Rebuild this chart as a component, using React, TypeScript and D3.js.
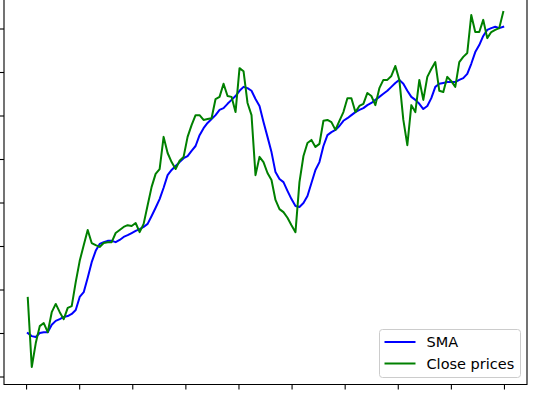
import React, { useRef, useEffect } from "react";
import { select, scaleLinear, line, range } from "d3";

// close prices, one value per trading day
const closePrices = [
  118.2, 102.3, 107.8, 111.7, 112.4, 110.3, 114.9, 116.8, 114.9, 113.3,
  115.9, 116.3, 121.8, 126.7, 130.3, 133.8, 130.8, 130.3, 129.9, 130.8,
  131.0, 131.0, 133.1, 133.8, 134.5, 134.9, 134.7, 135.4, 133.3, 135.2,
  139.5, 143.7, 146.7, 147.8, 155.2, 151.5, 149.4, 147.8, 149.7, 150.6,
  155.2, 157.9, 160.2, 160.2, 159.1, 159.3, 159.5, 163.9, 164.4, 167.4,
  164.6, 164.4, 160.9, 171.0, 170.3, 163.0, 160.2, 146.4, 150.6, 149.4,
  146.9, 145.3, 140.7, 138.6, 137.9, 136.6, 134.9, 133.3, 144.8, 150.8,
  153.8, 154.5, 152.9, 153.6, 158.9, 159.1, 158.6, 156.8, 158.9, 160.9,
  164.1, 164.1, 160.9, 162.3, 162.8, 165.3, 164.6, 162.5, 166.4, 168.3,
  168.3, 169.2, 171.5, 168.3, 159.1, 153.3, 162.5, 160.9, 168.3, 163.7,
  169.0, 170.8, 172.4, 165.8, 165.5, 169.0, 168.0, 166.7, 172.4, 173.6,
  174.5, 183.2, 179.3, 179.3, 182.1, 177.9, 179.3, 179.8, 180.2, 183.9,
];

// simple moving average, also
const smaValues = [
  110.1, 109.4, 109.2, 110.1, 110.3, 110.3, 112.0, 112.9, 113.3, 113.8,
  114.0, 114.5, 115.4, 118.4, 119.5, 122.8, 126.4, 129.0, 130.6, 131.0,
  131.3, 131.3, 131.0, 131.5, 132.2, 132.6, 133.1, 133.6, 134.0, 134.5,
  135.2, 137.0, 138.9, 140.9, 143.5, 146.4, 147.6, 148.5, 149.4, 150.3,
  150.8, 152.0, 153.1, 155.6, 157.2, 158.4, 159.3, 160.2, 161.4, 161.8,
  162.8, 163.7, 164.6, 165.8, 166.7, 166.4, 165.8, 163.9, 162.3, 158.6,
  155.2, 151.7, 147.1, 145.5, 144.8, 142.8, 140.9, 139.3, 139.1, 140.0,
  141.6, 144.6, 147.6, 149.4, 153.1, 155.6, 156.3, 156.8, 157.7, 158.9,
  159.5, 160.2, 160.9, 161.4, 161.8, 162.5, 163.0, 163.7, 164.4, 165.1,
  165.8, 166.7, 167.6, 168.3, 167.4, 165.8, 164.4, 163.7, 162.8, 161.6,
  162.3, 164.1, 166.7, 167.4, 167.6, 167.8, 167.8, 167.8, 168.3, 168.7,
  169.7, 172.0, 174.7, 176.3, 178.4, 179.8, 180.2, 180.5, 180.2, 180.5,
];

// tick positions (labels are cut off in the reference)
const xTickValues = range(10).map((k) => -0.3 + k * 13.29);
const yTickValues = [100, 110, 120, 130, 140, 150, 160, 170, 180];

const legendItems = [
  { label: "SMA", color: "blue" },
  { label: "Close prices", color: "green" },
];

const WIDTH = 535;
const HEIGHT = 393;

const App = () => {
  const svgRef = useRef<SVGSVGElement>(null);

  useEffect(() => {
    const svg = select(svgRef.current);
    svg.selectAll("*").remove();

    const left = 4;
    const right = 527;
    const bottom = 384.5;
    const n = closePrices.length;
    const pad = (n - 1) * 0.05;

    const x = scaleLinear()
      .domain([-pad, n - 1 + pad])
      .range([left, right]);
    const y = scaleLinear().domain([100, 180]).range([377, 29]);

    const g = svg.append("g");

    // ticks
    g.selectAll(".ytick")
      .data(yTickValues)
      .enter()
      .append("line")
      .attr("x1", left - 5)
      .attr("x2", left)
      .attr("y1", (d) => y(d))
      .attr("y2", (d) => y(d))
      .attr("stroke", "#000")
      .attr("stroke-width", 1.1);

    g.selectAll(".xtick")
      .data(xTickValues)
      .enter()
      .append("line")
      .attr("x1", (d) => x(d))
      .attr("x2", (d) => x(d))
      .attr("y1", bottom)
      .attr("y2", bottom + 5)
      .attr("stroke", "#000")
      .attr("stroke-width", 1.1);

    const lineGen = line<number>()
      .x((_, i) => x(i))
      .y((d) => y(d));

    g.append("path")
      .datum(smaValues)
      .attr("d", lineGen)
      .attr("fill", "none")
      .attr("stroke", "blue")
      .attr("stroke-width", 2)
      .attr("stroke-linejoin", "round")
      .attr("stroke-linecap", "square");

    g.append("path")
      .datum(closePrices)
      .attr("d", lineGen)
      .attr("fill", "none")
      .attr("stroke", "green")
      .attr("stroke-width", 2)
      .attr("stroke-linejoin", "round")
      .attr("stroke-linecap", "square");

    // spines (top one is outside the crop)
    g.append("path")
      .attr("d", `M${left},-10 V${bottom} H${right} V-10`)
      .attr("fill", "none")
      .attr("stroke", "#000")
      .attr("stroke-width", 1.1);

    // legend, lower right
    const legend = g.append("g").attr("transform", "translate(379.5, 329.5)");
    legend
      .append("rect")
      .attr("width", 141)
      .attr("height", 48)
      .attr("rx", 3)
      .attr("fill", "white")
      .attr("fill-opacity", 0.8)
      .attr("stroke", "#cccccc")
      .attr("stroke-width", 1);

    const rows = legend
      .selectAll(".legend-item")
      .data(legendItems)
      .enter()
      .append("g")
      .attr("transform", (d, i) => `translate(0, ${12.5 + i * 21.5})`);

    rows
      .append("line")
      .attr("x1", 5)
      .attr("x2", 36)
      .attr("stroke", (d) => d.color)
      .attr("stroke-width", 2);

    rows
      .append("text")
      .attr("x", 47)
      .attr("dy", "0.35em")
      .style("font-family", "DejaVu Sans")
      .style("font-size", "14.5px")
      .style("fill", "#000")
      .text((d) => d.label);
  }, []);

  return (
    <div style={{ position: "absolute", left: 0, top: 0, background: "white" }}>
      <svg ref={svgRef} width={WIDTH} height={HEIGHT} style={{ display: "block" }} />
    </div>
  );
};

export default App;
